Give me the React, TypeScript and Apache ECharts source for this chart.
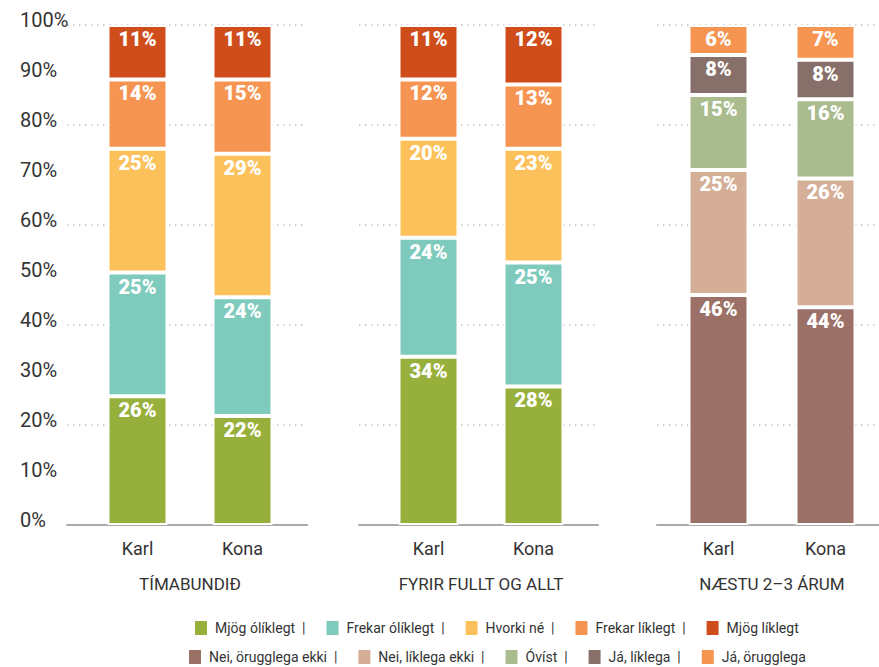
import React, { useEffect, useRef } from "react";
import * as echarts from "echarts";

const panelTitles = ["TÍMABUNDIÐ", "FYRIR FULLT OG ALLT", "NÆSTU 2–3 ÁRUM"];
const genders = ["Karl", "Kona"];

const likelihoodNames = ["Mjög ólíklegt", "Frekar ólíklegt", "Hvorki né", "Frekar líklegt", "Mjög líklegt"];
const likelihoodColors = ["#97B03B", "#7ECBBD", "#FCC15B", "#F69451", "#CF4D1B"];

const planNames = ["Nei, örugglega ekki", "Nei, líklega ekki", "Óvíst", "Já, líklega", "Já, örugglega"];
const planColors = ["#9B7066", "#D5AE98", "#AABB8E", "#876F6A", "#F69451"];

// percentages as printed on the bars (bottom to top)
const timabundidKarl = [26, 25, 25, 14, 11];
const timabundidKona = [22, 24, 29, 15, 11];
const fyrirFulltKarl = [34, 24, 20, 12, 11];
const fyrirFulltKona = [28, 25, 23, 13, 12];
const naestuKarl = [46, 25, 15, 8, 6];
const naestuKona = [44, 26, 16, 8, 7];

const FONT = "Roboto, 'Noto Sans', sans-serif";
const BAR_FONT = "Roboto, 'Noto Sans', sans-serif";

export default function App() {
  const ref = useRef<HTMLDivElement>(null);

  useEffect(() => {
    document.body.style.margin = "0";
    if (!ref.current) return;
    const chart = echarts.init(ref.current, null, { renderer: "svg" });

    const panels = [
      { title: panelTitles[0], karl: timabundidKarl, kona: timabundidKona, names: likelihoodNames, colors: likelihoodColors },
      { title: panelTitles[1], karl: fyrirFulltKarl, kona: fyrirFulltKona, names: likelihoodNames, colors: likelihoodColors },
      { title: panelTitles[2], karl: naestuKarl, kona: naestuKona, names: planNames, colors: planColors },
    ];

    const wideGrids = [
      { left: 67, width: 240 },
      { left: 359, width: 239 },
      { left: 657, width: 222 },
    ];
    const barGrids = [
      { left: 85, width: 210 },
      { left: 376, width: 210 },
      { left: 665, width: 214 },
    ];
    const TOP = 25;
    const H = 500;

    const grid: any[] = [];
    wideGrids.forEach((g) => grid.push({ left: g.left, width: g.width, top: TOP, height: H }));
    barGrids.forEach((g) => grid.push({ left: g.left, width: g.width, top: TOP, height: H }));

    const xAxis: any[] = [];
    wideGrids.forEach((_, i) =>
      xAxis.push({
        type: "value",
        gridIndex: i,
        min: 0,
        max: 1,
        position: "bottom",
        axisLine: { show: true, onZero: false, lineStyle: { color: "#aaaaaa", width: 2 } },
        axisTick: { show: false },
        axisLabel: { show: false },
        splitLine: { show: false },
      })
    );
    panels.forEach((p, i) =>
      xAxis.push({
        type: "category",
        gridIndex: 3 + i,
        data: genders,
        axisLine: { show: false },
        axisTick: { show: false },
        axisLabel: { color: "#333", fontSize: 18, fontFamily: FONT, margin: 14 },
        name: p.title,
        nameLocation: "middle",
        nameGap: 50,
        nameTextStyle: { color: "#333", fontSize: 17, fontFamily: FONT },
      })
    );

    const yAxis: any[] = [];
    yAxis.push({
      type: "value",
      gridIndex: 0,
      min: 0,
      max: 100,
      interval: 10,
      axisLine: { show: false },
      axisTick: { show: false },
      splitLine: { show: false },
      axisLabel: {
        formatter: "{value}%",
        color: "#333",
        fontSize: 20,
        fontFamily: FONT,
        align: "left",
        verticalAlign: "bottom",
        lineHeight: 10,
        margin: 47,
      },
    });
    wideGrids.forEach((_, i) =>
      yAxis.push({
        type: "value",
        gridIndex: i,
        min: 0,
        max: 100,
        interval: 20,
        axisLine: { show: false },
        axisTick: { show: false },
        axisLabel: { show: false },
        splitLine: { show: true, lineStyle: { color: "#c2c2c2", width: 1.5, type: [1.5, 4.5] } },
      })
    );
    panels.forEach((_, i) =>
      yAxis.push({
        type: "value",
        gridIndex: 3 + i,
        min: 0,
        max: 100,
        show: false,
        splitLine: { show: false },
      })
    );

    const series: any[] = [];
    panels.forEach((p, pi) => {
      const totalK = p.karl.reduce((a, b) => a + b, 0);
      const totalW = p.kona.reduce((a, b) => a + b, 0);
      p.names.forEach((name, ci) => {
        series.push({
          type: "bar",
          name,
          stack: "s" + pi,
          xAxisIndex: 3 + pi,
          yAxisIndex: 4 + pi,
          barWidth: 60,
          itemStyle: { color: p.colors[ci], borderColor: "#ffffff", borderWidth: 2 },
          label: {
            show: true,
            position: "insideTop",
            distance: 4,
            color: "#ffffff",
            fontSize: 20,
            fontWeight: 900,
            fontFamily: BAR_FONT,
            formatter: (q: any) => q.data.pct + "%",
          },
          data: [
            { value: (p.karl[ci] / totalK) * 100, pct: p.karl[ci] },
            { value: (p.kona[ci] / totalW) * 100, pct: p.kona[ci] },
          ],
        });
      });
    });

    const legendCommon = {
      orient: "horizontal",
      icon: "rect",
      itemWidth: 14,
      itemHeight: 16,
      itemGap: 19,
      padding: 0,
      selectedMode: false,
      textStyle: { color: "#333", fontSize: 14, fontFamily: FONT, padding: [0, 0, 0, 2] },
    };

    const option: any = {
      animation: false,
      backgroundColor: "#ffffff",
      grid,
      xAxis,
      yAxis,
      series,
      legend: [
        {
          ...legendCommon,
          left: 193,
          top: 619,
          data: likelihoodNames,
          formatter: (n: string) => (n === likelihoodNames[likelihoodNames.length - 1] ? n : n + "  |"),
        },
        {
          ...legendCommon,
          left: 187,
          top: 648,
          data: planNames,
          formatter: (n: string) => (n === planNames[planNames.length - 1] ? n : n + "  |"),
        },
      ],
    };

    chart.setOption(option);
    return () => chart.dispose();
  }, []);

  return <div ref={ref} style={{ width: 879, height: 667 }} />;
}
